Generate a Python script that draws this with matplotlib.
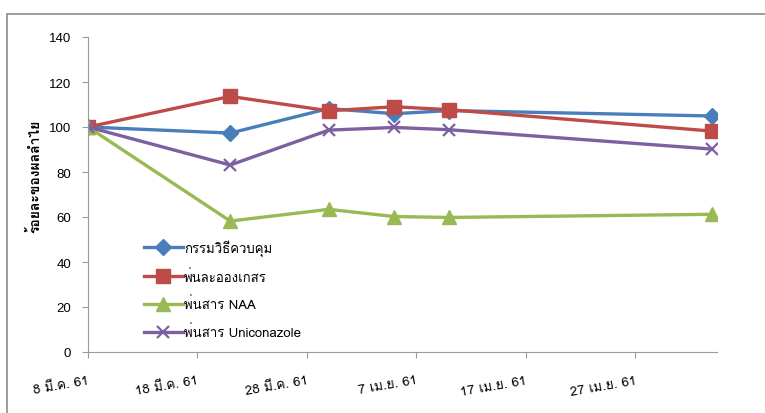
import numpy as np
import matplotlib
matplotlib.use('Agg')
import matplotlib.pyplot as plt
from matplotlib import font_manager
from matplotlib.patches import Rectangle
from fontTools.ttLib import TTFont

# sampling dates and percentages
dates = ['2018-03-08', '2018-03-21', '2018-03-30', '2018-04-05', '2018-04-10', '2018-05-04']
control = [100, 97.3, 108.2, 105.9, 107.3, 104.9]
spray_water = [100, 113.6, 107.2, 109.0, 107.7, 98.2]
spray_naa = [100, 58.2, 63.4, 60.2, 59.8, 61.2]
spray_uni = [100, 83.1, 98.6, 99.8, 98.8, 90.2]

series_names = ['กรรมวิธีควบคุม', 'พ่นละอองเกสร', 'พ่นสาร NAA', 'พ่นสาร Uniconazole']
tick_labels = ['8 มี.ค. 61', '18 มี.ค. 61', '28 มี.ค. 61', '7 เม.ย. 61', '17 เม.ย. 61', '27 เม.ย. 61']
y_label = 'ร้อยละของผลลำไย'


def thai_font():
    """Find an installed family that covers Thai glyphs"""
    for f in font_manager.fontManager.ttflist:
        try:
            cmap = TTFont(f.fname, fontNumber=0, lazy=True).getBestCmap()
        except Exception:
            continue
        if cmap and 0x0E01 in cmap:
            return f.name
    return 'DejaVu Sans'


fam = [thai_font(), 'Liberation Sans', 'DejaVu Sans']
plt.rcParams['font.family'] = fam

start = np.datetime64(dates[0])
days = (np.array(dates, dtype='datetime64[D]') - start).astype(int)

fig = plt.figure(figsize=(7.65, 4.14), dpi=100)
fig.patches.append(Rectangle((7 / 765, -0.1), 1.2, (414 - 15) / 414 + 0.1,
                             transform=fig.transFigure, fill=False,
                             edgecolor='#8c8c8c', linewidth=1.2))

ax = fig.add_axes([88 / 765, 61 / 414, 629 / 765, 315 / 414])

styles = [
    dict(color='#4A7EBB', marker='D', markersize=8),
    dict(color='#BE4B48', marker='s', markersize=9.5),
    dict(color='#98B954', marker='^', markersize=9.5),
    dict(color='#7D60A0', marker='x', markersize=9, markeredgewidth=1.6),
]
for vals, name, st in zip([control, spray_water, spray_naa, spray_uni], series_names, styles):
    ax.plot(days, vals, linewidth=2.4, label=name, **st)

ax.set_xlim(0, 57.5)
ax.set_ylim(0, 140)
ax.set_yticks(np.arange(0, 141, 20))
ax.set_xticks(np.arange(0, 60, 10))
ax.set_xticklabels(tick_labels, rotation=10, ha='right', rotation_mode='anchor', fontsize=9.5)
for lbl in ax.get_yticklabels():
    lbl.set_fontsize(9.5)
    lbl.set_family('Liberation Sans')

for side in ['top', 'right']:
    ax.spines[side].set_visible(False)
for side in ['left', 'bottom']:
    ax.spines[side].set_color('#9a9a9a')
ax.tick_params(axis='both', direction='out', length=4, color='#9a9a9a', labelcolor='black')
ax.tick_params(axis='x', pad=12)
ax.tick_params(axis='y', pad=8)

ax.set_ylabel(y_label, fontsize=10, fontweight='bold')
ax.yaxis.set_label_coords(-0.072, 0.56)

ax.legend(loc='upper left', bbox_to_anchor=(0.08, 0.375), frameon=False,
          fontsize=9.5, handlelength=3.0, handletextpad=0.05, labelspacing=0.98,
          borderaxespad=0)

fig.savefig('out.png', dpi=100)
